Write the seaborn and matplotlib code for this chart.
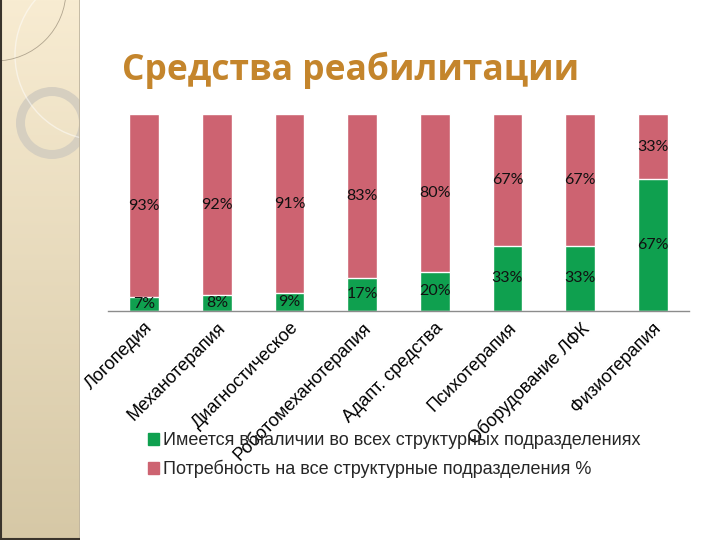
# Средства реабилитации — stacked bars (available vs. needed)
import numpy as np
import pandas as pd
import matplotlib
matplotlib.use("Agg")
import matplotlib.pyplot as plt
import matplotlib.patches as mpatches
import seaborn as sns

# ──────────────────────────────────────────────
# Data
# ──────────────────────────────────────────────
CATEGORIES = ["Логопедия", "Механотерапия", "Диагностическое",
              "Роботомеханотерапия", "Адапт. средства", "Психотерапия",
              "Оборудование ЛФК", "Физиотерапия"]
AVAILABLE = [7, 8, 9, 17, 20, 33, 33, 67]      # green, bottom
NEEDED    = [93, 92, 91, 83, 80, 67, 67, 33]   # pink, top
SERIES_NAMES = ["Имеется в наличии во всех структурных подразделениях",
                "Потребность на все структурные подразделения %"]
TITLE = "Средства реабилитации"

GREEN = "#0FA04F"
PINK  = "#CD6371"

df = pd.DataFrame({"cat": CATEGORIES, "avail": AVAILABLE, "need": NEEDED})
df["total"] = df["avail"] + df["need"]

sns.set_theme(style="white")
plt.rcParams["font.family"] = ["Liberation Sans", "DejaVu Sans"]

fig = plt.figure(figsize=(7.2, 5.4), dpi=100)
fig.patch.set_facecolor("white")

# ──────────────────────────────────────────────
# Left decorative strip
# ──────────────────────────────────────────────
strip = fig.add_axes([0, 0, 80 / 720, 1])
grad = np.linspace(0, 1, 256).reshape(-1, 1)
top_c = np.array([248, 236, 210]) / 255
bot_c = np.array([214, 200, 166]) / 255
img = top_c + (bot_c - top_c) * grad[..., None]
strip.imshow(img, extent=[0, 80, 540, 0], aspect="auto")
strip.set_xlim(0, 80)
strip.set_ylim(540, 0)
strip.add_patch(mpatches.Wedge((52, 123), 36, 0, 360, width=9,
                               facecolor="#D6CFC0", edgecolor="none"))
strip.add_patch(mpatches.Circle((100, 55), 85, fill=False,
                                edgecolor="white", lw=1.0, alpha=0.5))
strip.add_patch(mpatches.Circle((-5, -10), 71, fill=False,
                                edgecolor="#B0A48E", lw=0.6))
strip.axvline(79.5, color="#BDB39E", lw=1.2)
strip.axvline(0.5, color="#3A342C", lw=1.5)
strip.axhline(539, color="#3A342C", lw=1.5)
strip.axis("off")

# ──────────────────────────────────────────────
# Title
# ──────────────────────────────────────────────
fig.text(122 / 720, 1 - 70 / 540, TITLE, fontsize=25.5, fontweight="bold",
         color="#C4852C", ha="left", va="center", family=["Open Sans", "DejaVu Sans"])

# ──────────────────────────────────────────────
# Stacked bars
# ──────────────────────────────────────────────
ax = fig.add_axes([108 / 720, 1 - 311 / 540, 581 / 720, 197 / 540])
sns.barplot(data=df, x="cat", y="total", color=PINK, width=0.41,
            saturation=1, ax=ax)
sns.barplot(data=df, x="cat", y="avail", color=GREEN, width=0.41,
            saturation=1, ax=ax)

lab_font = dict(fontsize=11.5, color="#111111", ha="center", va="center",
                family=["Lato", "DejaVu Sans"])
for i, (a, n) in enumerate(zip(AVAILABLE, NEEDED)):
    ax.text(i, a / 2, f"{a}%", **lab_font)
    ax.text(i, a + n / 2, f"{n}%", **lab_font)

ax.set_xlim(-0.5, len(CATEGORIES) - 0.5)
ax.set_ylim(0, 100)
ax.set_xlabel("")
ax.set_ylabel("")
ax.set_yticks([])
for s in ["left", "right", "top"]:
    ax.spines[s].set_visible(False)
ax.spines["bottom"].set_color("#8C8C8C")
ax.spines["bottom"].set_linewidth(1)
ax.tick_params(axis="x", length=0, pad=6)
ax.set_xticks(range(len(CATEGORIES)))
ax.set_xticklabels(CATEGORIES, rotation=45, ha="right",
                   rotation_mode="anchor", fontsize=13, color="black")
ax.patch.set_alpha(0)

# ──────────────────────────────────────────────
# Legend
# ──────────────────────────────────────────────
handles = [mpatches.Patch(color=GREEN, label=SERIES_NAMES[0]),
           mpatches.Patch(color=PINK, label=SERIES_NAMES[1])]
fig.legend(handles=handles, loc="upper left",
           bbox_to_anchor=(132 / 720, 1 - 416 / 540), frameon=False,
           fontsize=13, handlelength=0.6, handleheight=0.6,
           handletextpad=0.2, labelspacing=0.6)

fig.savefig("out.png", dpi=100)
